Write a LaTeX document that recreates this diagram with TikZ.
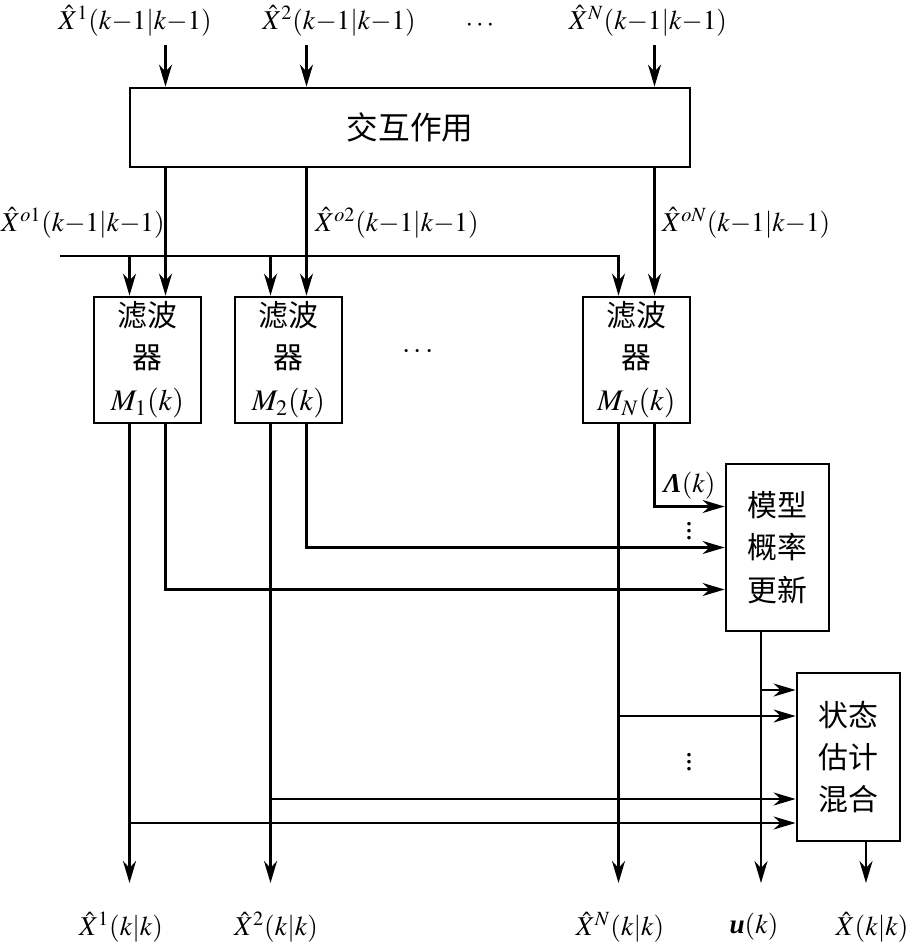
\documentclass[tikz,border=0pt]{standalone}
\usepackage{mathptmx}
\usepackage[no-math]{fontspec}
\setmainfont{Liberation Serif}
\newfontfamily\cjk{Noto Sans CJK SC}
\usetikzlibrary{arrows.meta}
\usetikzlibrary{calc}

\begin{document}
\begin{tikzpicture}[x=0.02cm, y=-0.02cm,
  font=\fontsize{17}{24}\selectfont,
  line width=1.4pt,
  >={Stealth[length=4.4mm,width=2.6mm,inset=1.4mm]},
  blk/.style={draw, line width=1.6pt, inner sep=0pt, align=center},
  filt/.style={blk, minimum width=2.14cm, minimum height=2.52cm},
  side/.style={blk, minimum width=2.06cm, minimum height=3.36cm},
  lbl/.style={font=\fontsize{15.5}{18}\selectfont}]
\useasboundingbox (0,0) rectangle (913,943);

% boxes
\node[blk, minimum width=11.2cm, minimum height=1.58cm, font=\cjk\fontsize{18}{22}\selectfont] (inter) at (410,127.5) {交互作用};
\node[filt] (filt1) at (147.5,360) {{\cjk 滤波}\\{\cjk 器}\\$M_1(k)$};
\node[filt] (filt2) at (288.5,360) {{\cjk 滤波}\\{\cjk 器}\\$M_2(k)$};
\node[filt] (filtN) at (636.5,360) {{\cjk 滤波}\\{\cjk 器}\\$M_N(k)$};
\node[side, minimum height=3.34cm] (prob) at (777.5,547.5) {{\cjk 模型}\\{\cjk 概率}\\{\cjk 更新}};
\node[side] (mix) at (848.5,757) {{\cjk 状态}\\{\cjk 估计}\\{\cjk 混合}};

% columns
\coordinate (f1a) at ([xshift=-0.36cm]filt1.north);
\coordinate (f1b) at ([xshift=0.36cm]filt1.north);
\coordinate (f2a) at ([xshift=-0.36cm]filt2.north);
\coordinate (f2b) at ([xshift=0.36cm]filt2.north);
\coordinate (fNa) at ([xshift=-0.36cm]filtN.north);
\coordinate (fNb) at ([xshift=0.36cm]filtN.north);
\coordinate (po) at ([xshift=-0.33cm]prob.south);
\coordinate (mo) at ([xshift=0.35cm]mix.south);
\coordinate (bus) at (60,256);
\coordinate (top) at (0,45);
\coordinate (bot) at (0,883);
\coordinate (p1) at ([yshift=0.82cm]prob.west);
\coordinate (p3) at ([yshift=-0.84cm]prob.west);
\coordinate (m1) at ([yshift=1.34cm]mix.west);
\coordinate (m2) at ([yshift=0.82cm]mix.west);
\coordinate (m3) at ([yshift=-0.84cm]mix.west);
\coordinate (m4) at ([yshift=-1.32cm]mix.west);

% inputs
\node[lbl] (in1) at (135,21) {$\hat{X}^1(k{-}1|k{-}1)$};
\node[lbl] (in2) at (339,21) {$\hat{X}^2(k{-}1|k{-}1)$};
\node[lbl] (dots1) at (480,26) {$\cdots$};
\node[lbl] (inN) at (648,21) {$\hat{X}^N(k{-}1|k{-}1)$};
\draw[->] (top -| f1b) -- (inter.north -| f1b);
\draw[->] (top -| f2b) -- (inter.north -| f2b);
\draw[->] (top -| fNb) -- (inter.north -| fNb);

% interaction outputs
\draw[->] (inter.south -| f1b) -- (f1b);
\draw[->] (inter.south -| f2b) -- (f2b);
\draw[->] (inter.south -| fNb) -- (fNb);
\node[lbl, right] (o1) at (-6,223) {$\hat{X}^{o1}(k{-}1|k{-}1)$};
\node[lbl, right] (o2) at (308,223) {$\hat{X}^{o2}(k{-}1|k{-}1)$};
\node[lbl, right] (oN) at (655,223) {$\hat{X}^{oN}(k{-}1|k{-}1)$};

% measurement bus
\draw[->] (bus) -| (fNa);
\draw[->] (bus -| f1a) -- (f1a);
\draw[->] (bus -| f2a) -- (f2a);
\node (dots2) at (418,352) {$\cdots$};

% filter outputs
\draw[->] (f1a |- filt1.south) -- (f1a |- bot);
\draw[->] (f2a |- filt2.south) -- (f2a |- bot);
\draw[->] (fNa |- filtN.south) -- (fNa |- bot);
\draw[->] (fNb |- filtN.south) |- node[lbl, pos=0.75, above, name=lam] {\textbf{\textit{Λ}}$(k)$} (p1);
\draw[->] (f2b |- filt2.south) |- (prob.west);
\draw[->] (f1b |- filt1.south) |- (p3);
\node (dots3) at (689,526) {$\vdots$};

% mixing
\draw[->] (po) -- (po |- bot);
\draw[->] (m1 -| po) -- (m1);
\draw[->] (m2 -| fNa) -- (m2);
\draw[->] (m3 -| f2a) -- (m3);
\draw[->] (m4 -| f1a) -- (m4);
\node (dots4) at (689,757) {$\vdots$};
\draw[->] (mo) -- (mo |- bot);

% outputs
\node[lbl] (out1) at (121,927) {$\hat{X}^1(k|k)$};
\node[lbl] (out2) at (276,927) {$\hat{X}^2(k|k)$};
\node[lbl] (outN) at (620,927) {$\hat{X}^N(k|k)$};
\node[lbl] (outu) at (754,927) {\textbf{\textit{u}}$(k)$};
\node[lbl] (outx) at (872,927) {$\hat{X}(k|k)$};
\end{tikzpicture}
\end{document}
